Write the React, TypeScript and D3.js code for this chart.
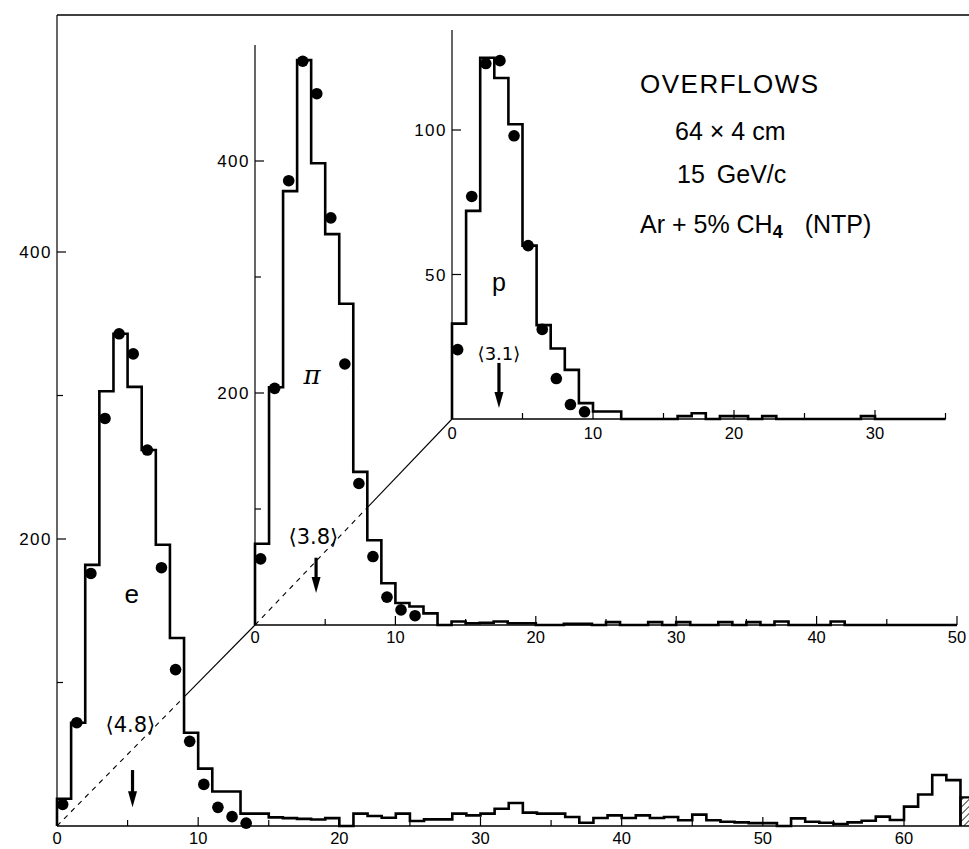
import React from "react";
import * as d3 from "d3";

// counts per unit bin
const E_COUNTS = [19, 72, 182, 303, 343, 306, 262, 196, 131, 65, 40, 24, 24, 8.6, 8.6, 6, 5.5, 5, 4.5, 5.5,
  0, 8.6, 7, 5.8, 8.6, 3.5, 4.6, 4.6, 8.6, 7.4, 8.6, 12, 16, 9.3, 8.6, 8.6, 6.3, 2.3, 5.6, 7.4,
  5.6, 7.4, 5.6, 6.3, 4, 7.9, 4, 3, 2.5, 2, 2, 0, 5.3, 3, 2.3, 1.4, 2.5, 3.7, 6.5, 4.2,
  13.5, 22, 35.5, 32];
const E_OVERFLOW = 20;
const E_POINTS = [15, 72, 176, 284, 343, 329, 262, 180, 109, 59, 29, 13, 6.5, 2];

const PI_COUNTS = [70, 205, 374, 487, 398, 337, 277, 132, 73, 36, 19, 16, 10, 0, 3, 1.5, 2, 3, 1.5, 1.5,
  0, 0, 1, 1, 0, 2.5, 0, 0, 2.5, 0, 2.5, 0, 0, 2.5, 0, 2.5, 0, 3, 0, 0,
  0, 3, 0, 0, 0, 0, 0, 0, 0, 0];
const PI_POINTS = [57, 204, 383, 486, 458, 351, 225, 122, 59, 24, 13, 8];

const P_COUNTS = [33, 72, 125, 118, 102, 60, 32.5, 24.4, 17, 5.5, 2.6, 2.6, 0, 0, 0, 0, 1, 2, 0, 1,
  1, 0, 1, 0, 0, 0, 0, 0, 0, 1, 0, 0, 0, 0, 0];
const P_POINTS = [24, 77, 123, 124, 98, 60, 31, 14, 5, 2.5];

const MEAN_LABELS = ["\u27e84.8\u27e9", "\u27e83.8\u27e9", "\u27e83.1\u27e9"];
const MEAN_ARROW_X = [5.35, 4.35, 3.33];
const NAMES = ["e", "\u03c0", "p"];

const E_XTICKS = [0, 10, 20, 30, 40, 50, 60];
const PI_XTICKS = [0, 10, 20, 30, 40, 50];
const P_XTICKS = [0, 10, 20, 30];
const E_YTICKS = [200, 400];
const PI_YTICKS = [200, 400];
const P_YTICKS = [50, 100];

const INFO = ["OVERFLOWS", "64 \u00d7 4 cm", "15", "GeV/c", "Ar + 5% CH", "4", "(NTP)"];

const W = 969;
const H = 849;
const FONT = "'Liberation Sans', Arial, sans-serif";

type Scale = d3.ScaleLinear<number, number>;

function histPath(counts: number[], x: Scale, y: Scale) {
  const pts: [number, number][] = [[0, 0]];
  counts.forEach((v, i) => {
    pts.push([i, v]);
    pts.push([i + 1, v]);
  });
  pts.push([counts.length, 0]);
  return d3.line<[number, number]>().x(d => x(d[0])).y(d => y(d[1]))(pts) || "";
}

// line from a panel origin to the next panel's origin, dashed while under the histogram
function Link({ x, y, counts, tx, ty }: { x: Scale; y: Scale; counts: number[]; tx: number; ty: number }) {
  const dx = x.invert(tx);
  const dv = y.invert(ty);
  let tc = 0;
  for (let i = 0; i <= 1000; i++) {
    const t = i / 1000;
    const bin = Math.floor(dx * t);
    const h = counts[bin] ?? 0;
    if (dv * t < h) tc = t;
  }
  const x0 = x(0), y0 = y(0);
  const xc = x(dx * tc), yc = y(dv * tc);
  return (
    <g stroke="#000" strokeWidth={1.1}>
      <line x1={x0} y1={y0} x2={xc} y2={yc} strokeDasharray="5,5" />
      <line x1={xc} y1={yc} x2={tx} y2={ty} />
    </g>
  );
}

function Arrow({ x, yTop, yTip }: { x: number; yTop: number; yTip: number }) {
  const head = 16;
  return (
    <g>
      <line x1={x} y1={yTop} x2={x} y2={yTip - head + 2} stroke="#000" strokeWidth={3.2} />
      <path d={`M${x - 4.5},${yTip - head} L${x + 4.5},${yTip - head} L${x},${yTip} Z`} fill="#000" />
    </g>
  );
}

interface PanelProps {
  x: Scale;
  y: Scale;
  counts: number[];
  points: number[];
  xTicks: number[];
  yTicks: number[];
  yMinor: number[];
  xEnd: number;
  yTopPx: number;
  labelDy: number;
}

function Panel({ x, y, counts, points, xTicks, yTicks, yMinor, xEnd, yTopPx, labelDy }: PanelProps) {
  const x0 = x(0);
  const y0 = y(0);
  const minor = d3.range(5, xEnd + 0.01, 5);
  return (
    <g>
      {/* axes */}
      <line x1={x0} y1={y0} x2={Math.min(x(xEnd), W)} y2={y0} stroke="#000" strokeWidth={1.3} />
      <line x1={x0} y1={y0} x2={x0} y2={yTopPx} stroke="#000" strokeWidth={1.2} />
      {minor.map(t => (
        <line key={"xm" + t} x1={x(t)} x2={x(t)} y1={y0} y2={y0 - (t % 10 === 0 ? 9 : 6)} stroke="#000" strokeWidth={1.2} />
      ))}
      {xTicks.map(t => (
        <text key={"xl" + t} x={x(t)} y={y0 + labelDy} textAnchor="middle" fontSize={16.5} fontFamily={FONT}>
          {t}
        </text>
      ))}
      {yTicks.map(t => (
        <g key={"y" + t}>
          <line x1={x0} x2={x0 + 9} y1={y(t)} y2={y(t)} stroke="#000" strokeWidth={1.2} />
          <text x={x0 - 5} y={y(t) + 6} textAnchor="end" fontSize={17} letterSpacing={1.5} fontFamily={FONT}>
            {t}
          </text>
        </g>
      ))}
      {yMinor.map(t => (
        <line key={"ym" + t} x1={x0} x2={x0 + 6} y1={y(t)} y2={y(t)} stroke="#000" strokeWidth={1.2} />
      ))}
      {/* histogram */}
      <path d={histPath(counts, x, y)} fill="none" stroke="#000" strokeWidth={2.6} strokeLinejoin="miter" />
      {/* measured points */}
      {points.map((v, i) => (
        <circle key={"pt" + i} cx={x(i + 0.4)} cy={y(v)} r={5.8} fill="#000" />
      ))}
    </g>
  );
}

export default function App() {
  const xE = d3.scaleLinear().domain([0, 60]).range([57, 904]);
  const yE = d3.scaleLinear().domain([0, 200]).range([826, 539]);
  const xPi = d3.scaleLinear().domain([0, 50]).range([255, 957]);
  const yPi = d3.scaleLinear().domain([0, 200]).range([625, 393]);
  const xP = d3.scaleLinear().domain([0, 30]).range([452, 875]);
  const yP = d3.scaleLinear().domain([0, 100]).range([419, 130]);

  const ovX0 = xE(E_COUNTS.length);
  const ovX1 = xE(E_COUNTS.length + 1);

  return (
    <svg width={W} height={H} viewBox={`0 0 ${W} ${H}`} style={{ position: "absolute", left: 0, top: 0, background: "#fff" }}>
      <defs>
        <pattern id="hatch" width={5} height={5} patternUnits="userSpaceOnUse" patternTransform="rotate(45)">
          <line x1={0} y1={0} x2={0} y2={5} stroke="#000" strokeWidth={1.5} />
        </pattern>
      </defs>
      <rect width={W} height={H} fill="#fff" />

      {/* top frame line */}
      <line x1={57} y1={15} x2={W} y2={15} stroke="#000" strokeWidth={1.3} />

      <Link x={xE} y={yE} counts={E_COUNTS} tx={xPi(0)} ty={yPi(0)} />
      <Link x={xPi} y={yPi} counts={PI_COUNTS} tx={xP(0)} ty={yP(0)} />

      <Panel x={xE} y={yE} counts={E_COUNTS} points={E_POINTS} xTicks={E_XTICKS} yTicks={E_YTICKS}
        yMinor={[100, 300]} xEnd={66} yTopPx={15} labelDy={18} />
      <Panel x={xPi} y={yPi} counts={PI_COUNTS} points={PI_POINTS} xTicks={PI_XTICKS} yTicks={PI_YTICKS}
        yMinor={[100, 300]} xEnd={50} yTopPx={45} labelDy={18} />
      <Panel x={xP} y={yP} counts={P_COUNTS} points={P_POINTS} xTicks={P_XTICKS} yTicks={P_YTICKS}
        yMinor={[]} xEnd={35} yTopPx={30} labelDy={20} />

      {/* overflow bin */}
      <path
        d={`M${ovX0},${yE(0)} L${ovX0},${yE(E_OVERFLOW)} L${ovX1},${yE(E_OVERFLOW)} L${ovX1},${yE(0)}`}
        fill="url(#hatch)" stroke="#000" strokeWidth={2.2} />

      {/* particle labels and means */}
      <text x={xE(5.3)} y={yE(162) + 9} textAnchor="middle" fontSize={26} fontFamily={FONT}>{NAMES[0]}</text>
      <text x={xPi(4.06)} y={yPi(215) + 8} textAnchor="middle" fontSize={26} fontStyle="italic" fontFamily="'DejaVu Serif', serif">{NAMES[1]}</text>
      <text x={xP(3.33)} y={yP(47) + 8} textAnchor="middle" fontSize={25} fontFamily={FONT}>{NAMES[2]}</text>

      <text x={xE(5.2)} y={yE(71) + 8} textAnchor="middle" fontSize={21} fontFamily="'DejaVu Sans', sans-serif">{MEAN_LABELS[0]}</text>
      <text x={xPi(4.16)} y={yPi(77) + 8} textAnchor="middle" fontSize={21} fontFamily="'DejaVu Sans', sans-serif">{MEAN_LABELS[1]}</text>
      <text x={xP(3.33)} y={yP(23) + 7} textAnchor="middle" fontSize={18} fontFamily="'DejaVu Sans', sans-serif">{MEAN_LABELS[2]}</text>

      <Arrow x={xE(MEAN_ARROW_X[0])} yTop={yE(39)} yTip={yE(13)} />
      <Arrow x={xPi(MEAN_ARROW_X[1])} yTop={yPi(58)} yTip={yPi(27.5)} />
      <Arrow x={xP(MEAN_ARROW_X[2])} yTop={yP(19.4)} yTip={yP(3.8)} />

      {/* info block */}
      <g fontFamily={FONT} fill="#000">
        <text x={640} y={93} fontSize={26} letterSpacing={1.5}>{INFO[0]}</text>
        <text x={675} y={140} fontSize={25}>{INFO[1]}</text>
        <text x={677} y={183} fontSize={25}>
          {INFO[2]}
          <tspan dx={12}>{INFO[3]}</tspan>
        </text>
        <text x={640} y={233} fontSize={25}>
          {INFO[4]}
          <tspan dy={5} fontSize={18} fontWeight="bold">{INFO[5]}</tspan>
          <tspan dx={22} dy={-5}>{INFO[6]}</tspan>
        </text>
      </g>
    </svg>
  );
}
